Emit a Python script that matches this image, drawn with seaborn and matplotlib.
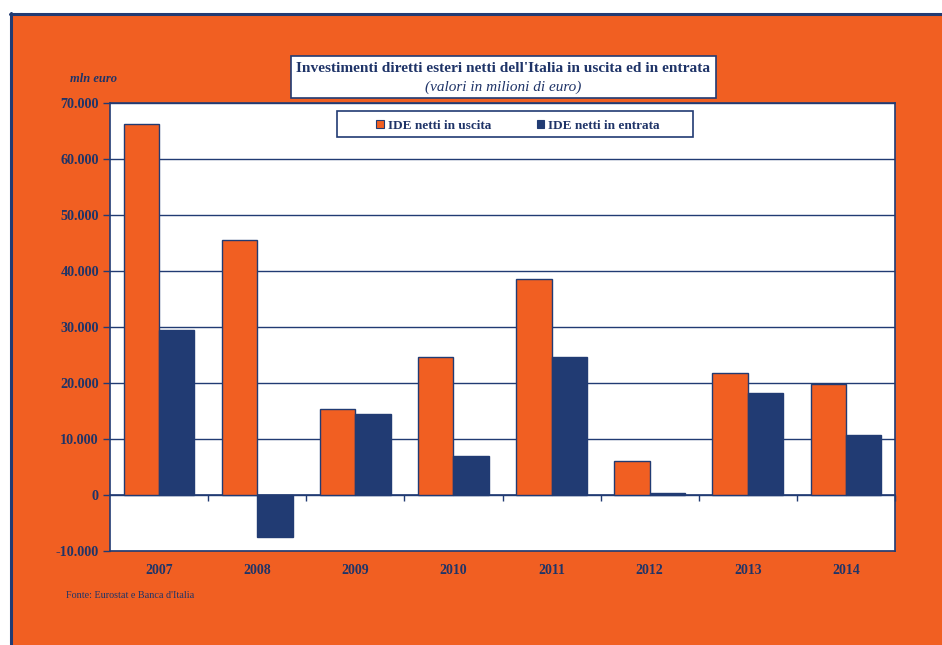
import matplotlib
matplotlib.use("Agg")
import matplotlib.pyplot as plt
from matplotlib.patches import Rectangle
from matplotlib.lines import Line2D
from matplotlib.ticker import FuncFormatter, MultipleLocator
import seaborn as sns
import pandas as pd

years = ["2007", "2008", "2009", "2010", "2011", "2012", "2013", "2014"]
ide_uscita = [66300, 45600, 15300, 24600, 38600, 6100, 21800, 19800]
ide_entrata = [29400, -7500, 14500, 7000, 24600, 300, 18200, 10700]
series_names = ["IDE netti in uscita", "IDE netti in entrata"]

ORANGE = "#F15F22"
NAVY = "#213B73"
TEXT = "#1F3468"

df = pd.DataFrame({
    "anno": years * 2,
    "valore": ide_uscita + ide_entrata,
    "serie": [series_names[0]] * len(years) + [series_names[1]] * len(years),
})

sns.set_theme(style="white")
plt.rcParams["font.family"] = ["Liberation Serif", "DejaVu Serif"]

fig = plt.figure(figsize=(9.42, 6.45), dpi=100)
fig.patch.set_facecolor("white")

# orange panel with navy border on top and left
fig.patches.append(Rectangle((11 / 942, 0), 1 - 11 / 942, 1 - 13 / 645,
                             transform=fig.transFigure, facecolor=ORANGE,
                             edgecolor="none", zorder=-10))
fig.lines.append(Line2D([10.5 / 942, 10.5 / 942], [0, 1 - 13 / 645],
                        transform=fig.transFigure, color=NAVY, lw=2.2,
                        zorder=-9))
fig.lines.append(Line2D([10 / 942, 1], [1 - 13.5 / 645, 1 - 13.5 / 645],
                        transform=fig.transFigure, color=NAVY, lw=2.2,
                        zorder=-9))

ax = fig.add_axes([110 / 942, 1 - 551 / 645, 785 / 942, 448 / 645])
ax.set_facecolor("white")

sns.barplot(data=df, x="anno", y="valore", hue="serie", order=years,
            hue_order=series_names, palette=[ORANGE, NAVY], width=0.72,
            gap=0, edgecolor=NAVY, linewidth=1.0, saturation=1, ax=ax,
            zorder=3)

ax.set_ylim(-10000, 70000)
ax.yaxis.set_major_locator(MultipleLocator(10000))
ax.yaxis.set_major_formatter(FuncFormatter(
    lambda v, p: f"{int(v):,}".replace(",", ".")))
ax.grid(axis="y", color=NAVY, lw=1.0, zorder=1)
ax.set_axisbelow(True)
ax.set_xlabel("")
ax.set_ylabel("")

for s in ax.spines.values():
    s.set_color(NAVY)
    s.set_linewidth(1.2)

ax.tick_params(axis="y", direction="out", length=5, width=1, color=NAVY,
               left=True, labelsize=10.2, labelcolor=TEXT, pad=3)
ax.tick_params(axis="x", length=0, labelsize=10, labelcolor=TEXT, pad=9)
for lab in ax.get_yticklabels() + ax.get_xticklabels():
    lab.set_fontweight("bold")

# tick marks between categories on the zero line
zero_axis = ax.secondary_xaxis(10000 / 80000)
zero_axis.set_xticks([i + 0.5 for i in range(len(years) - 1)] + [len(years) - 0.5])
zero_axis.tick_params(axis="x", direction="out", length=4, width=1,
                      color=NAVY, labelbottom=False)
zero_axis.spines["bottom"].set_color(NAVY)
zero_axis.spines["bottom"].set_linewidth(1.2)

# legend box with wide inner margins
ax.add_patch(Rectangle((227 / 785, (551 - 137) / 448), 356 / 785, 26 / 448,
                       transform=ax.transAxes, facecolor="white",
                       edgecolor=NAVY, lw=1.2, zorder=5))
leg = ax.legend(loc="center", bbox_to_anchor=(0.52, 0.949), ncol=2,
                frameon=False, handlelength=0.6, handleheight=0.6,
                handletextpad=0.3, columnspacing=3.4, borderpad=0.2,
                prop={"weight": "bold", "size": 9.5})
leg.set_zorder(6)
for t in leg.get_texts():
    t.set_color(TEXT)
for h in leg.legend_handles:
    h.set_edgecolor(NAVY)
    h.set_linewidth(0.8)

# title box
fig.patches.append(Rectangle((291 / 942, 1 - 98 / 645), 425 / 942, 42 / 645,
                             transform=fig.transFigure, facecolor="white",
                             edgecolor=NAVY, lw=1.2, zorder=2))
fig.text(503.5 / 942, 1 - 68 / 645,
         "Investimenti diretti esteri netti dell'Italia in uscita ed in entrata",
         ha="center", va="center", fontsize=11.1, fontweight="bold",
         color=TEXT, zorder=3)
fig.text(503.5 / 942, 1 - 87 / 645, "(valori in milioni di euro)",
         ha="center", va="center", fontsize=11, fontstyle="italic",
         color=TEXT, zorder=3)

fig.text(94 / 942, 1 - 79 / 645, "mln euro", ha="center", va="center",
         fontsize=9, fontstyle="italic", fontweight="bold", color=TEXT)
fig.text(66 / 942, 1 - 596 / 645, "Fonte: Eurostat e Banca d'Italia",
         ha="left", va="center", fontsize=7.3, color=TEXT)

fig.savefig("out.png", dpi=100)
